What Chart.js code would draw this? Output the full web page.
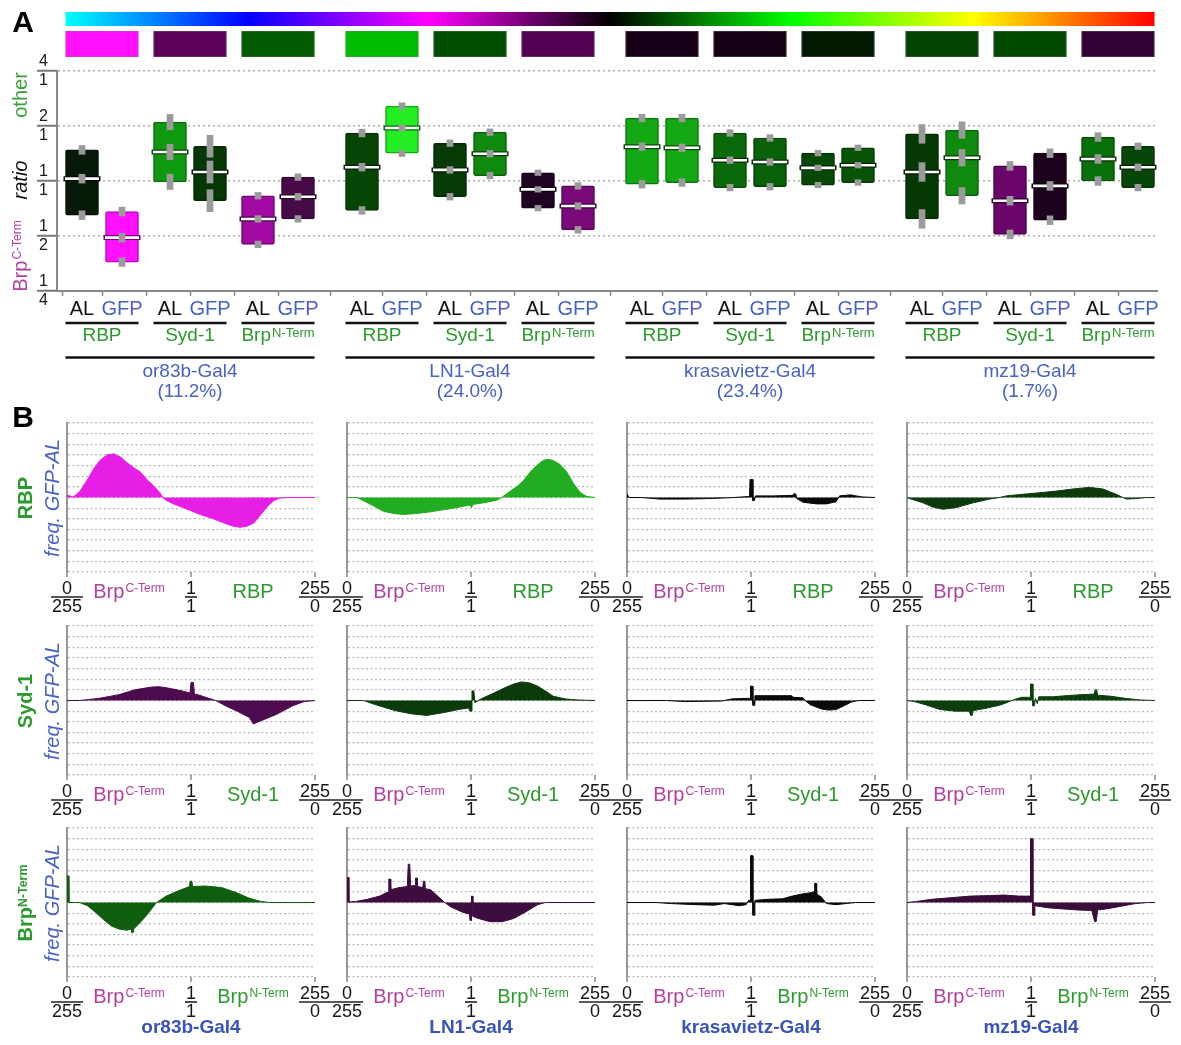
<!DOCTYPE html>
<html>
<head>
<meta charset="utf-8">
<title>AL / GFP ratio distributions</title>
<script src="https://cdn.jsdelivr.net/npm/chart.js@4/dist/chart.umd.min.js"></script>
<style>
  html, body { margin: 0; padding: 0; background: #fff; }
  #fig { position: relative; width: 1181px; height: 1045px; overflow: hidden;
         font-family: "Liberation Sans", Arial, Helvetica, sans-serif; }
  #fig canvas { position: absolute; }
  .lbl { position: absolute; white-space: nowrap; text-align: center; }
  .lbl sup { font-size: 0.62em; vertical-align: 0.42em; line-height: 0; }
</style>
</head>
<body>
<div id="fig">
  <canvas id="ratioChart" width="1181" height="420" style="left:0;top:0"></canvas>
</div>
<script>
// ---------------------------------------------------------------
// Panel A: AL vs GFP intensity ratios (Brp C-Term : other marker)
// order: driver -> marker -> (AL, GFP)
// ---------------------------------------------------------------
const drivers      = ['or83b-Gal4', 'LN1-Gal4', 'krasavietz-Gal4', 'mz19-Gal4'];
const driverShare  = ['(11.2%)', '(24.0%)', '(23.4%)', '(1.7%)'];
const markerNames  = ['RBP', 'Syd-1', 'Brp'];
const markerSups   = ['', '', 'N-Term'];
const sampleNames  = ['AL', 'GFP'];

const ratioHigh   = [1.48, 0.68, 2.10, 1.55, 0.83, 1.05,  1.83, 2.57, 1.61, 1.85, 1.11, 0.94,
                     2.21, 2.21, 1.83, 1.72, 1.42, 1.52,  1.81, 1.90, 1.21, 1.42, 1.74, 1.55];
const ratioMedian = [1.03, 0.49, 1.44, 1.12, 0.62, 0.82,  1.19, 1.95, 1.15, 1.41, 0.90, 0.73,
                     1.54, 1.52, 1.30, 1.27, 1.18, 1.22,  1.12, 1.34, 0.78, 0.94, 1.32, 1.19];
const ratioLow    = [0.65, 0.36, 0.99, 0.78, 0.45, 0.62,  0.69, 1.42, 0.82, 1.07, 0.71, 0.54,
                     0.96, 0.98, 0.92, 0.93, 0.95, 0.98,  0.62, 0.83, 0.51, 0.61, 1.00, 0.92];
// half-length (log2 units) of the grey uncertainty marks
const ratioSpread = [0.08, 0.08, 0.14, 0.20, 0.06, 0.06,  0.07, 0.06, 0.06, 0.06, 0.05, 0.06,
                     0.07, 0.07, 0.06, 0.06, 0.05, 0.05,  0.17, 0.15, 0.08, 0.08, 0.08, 0.06];
const boxFill = ['#071a07', '#ff10ff', '#0f990f', '#053805', '#a30aa3', '#470a47',
                 '#074507', '#22ee22', '#063a06', '#0f8a0f', '#200320', '#7a0a7a',
                 '#14a814', '#14a814', '#0a6a0a', '#086008', '#064806', '#075407',
                 '#063806', '#0f8a0f', '#6a066a', '#1c021c', '#087008', '#064606'];
const pairFill = ['#ff10ff', '#5c005c', '#005a00', '#00bb00', '#004f00', '#520052',
                  '#170017', '#140012', '#011801', '#004400', '#004900', '#330033'];
const ratioTicks    = [0.25, 0.5, 1, 2, 4];
const ratioTickText = [['1', '4'], ['1', '2'], ['1', '1'], ['2', '1'], ['4', '1']];

// ---------------------------------------------------------------
// Panel B: GFP-AL frequency differences, [bin, value]
// bins 0..510 : 0/255 ... 1/1 (bin 255) ... 255/0
// ---------------------------------------------------------------
const hRBP_or83b = [[0,0.2],[6,0.15],[12,0.05],[17,0.2],[27,0.6],[41,1.6],[55,2.7],[68,3.5],[82,4.0],[96,4.1],[110,3.8],[123,3.3],[137,2.8],[151,2.4],[164,1.7],[178,1.1],[192,0.4],[197,0],[205,-0.3],[219,-0.6],[247,-1.1],[274,-1.6],[301,-2.0],[329,-2.5],[342,-2.7],[356,-2.8],[370,-2.7],[384,-2.4],[397,-1.7],[411,-0.9],[425,-0.3],[438,-0.05],[452,0],[510,0]];
const hRBP_LN1   = [[0,0],[21,0],[34,-0.3],[55,-0.8],[75,-1.3],[96,-1.5],[116,-1.6],[144,-1.5],[171,-1.35],[199,-1.15],[226,-0.95],[253,-0.7],[256,-0.95],[259,-0.65],[281,-0.5],[308,-0.25],[318,0],[336,0.6],[349,1.0],[363,1.6],[377,2.4],[390,3.0],[404,3.5],[414,3.6],[425,3.45],[438,3.1],[452,2.4],[466,1.3],[479,0.5],[493,0.1],[510,0]];
const hRBP_kras  = [[0,0.35],[2,0.35],[4,0],[30,0],[67,-0.15],[120,-0.15],[170,-0.1],[220,0],[252,0.1],[253,1.7],[258,1.7],[259,-0.3],[262,-0.3],[264,0.15],[300,0.15],[341,0.2],[343,0.35],[347,0.35],[349,-0.1],[362,-0.45],[390,-0.6],[410,-0.6],[430,-0.4],[437,0.15],[460,0.25],[471,0.15],[485,0.05],[510,0]];
const hRBP_mz19  = [[0,0],[5,-0.1],[33,-0.5],[53,-0.9],[74,-1.1],[101,-0.95],[136,-0.5],[170,-0.15],[190,0],[204,0.15],[238,0.3],[273,0.45],[307,0.6],[341,0.8],[375,0.95],[403,0.8],[430,0.3],[451,-0.15],[471,-0.1],[492,0],[510,0]];

const hSyd_or83b = [[0,0],[26,0],[66,0.2],[107,0.55],[139,1.0],[172,1.25],[188,1.3],[204,1.2],[237,0.9],[253,0.7],[255,1.7],[260,1.7],[262,0.6],[269,0.55],[285,0.3],[306,0],[326,-0.5],[350,-1.0],[375,-1.6],[383,-2.2],[399,-1.9],[431,-1.3],[464,-0.5],[488,-0.1],[510,0]];
const hSyd_LN1   = [[0,0],[34,0],[59,-0.4],[99,-0.95],[132,-1.25],[164,-1.4],[197,-1.15],[229,-0.85],[250,-0.7],[253,-1.0],[256,-1.0],[257,0.9],[261,0.9],[263,-0.2],[270,0],[278,0.2],[302,0.7],[327,1.25],[343,1.55],[359,1.75],[376,1.65],[392,1.35],[408,0.9],[424,0.4],[449,0.15],[473,0.05],[510,0]];
const hSyd_kras  = [[0,0],[81,0],[120,-0.1],[195,-0.05],[215,0.15],[248,0.2],[253,0.2],[254,1.35],[258,1.35],[259,-0.45],[262,-0.45],[263,0.45],[300,0.45],[339,0.45],[341,0.3],[362,0.25],[366,0],[377,-0.4],[400,-0.8],[415,-0.9],[430,-0.85],[446,-0.5],[461,-0.15],[476,0],[510,0]];
const hSyd_mz19  = [[0,0],[15,-0.1],[38,-0.4],[68,-0.85],[99,-1.0],[128,-1.0],[131,-1.4],[134,-1.4],[136,-0.95],[160,-0.75],[190,-0.45],[205,-0.2],[221,0.1],[236,0.3],[253,0.3],[254,1.55],[258,1.55],[259,-0.5],[262,-0.5],[264,0.2],[268,-0.3],[271,0.35],[300,0.35],[327,0.45],[358,0.55],[385,0.6],[387,1.0],[390,1.0],[392,0.5],[419,0.4],[449,0.2],[479,0.05],[510,0]];

const hBrpN_or83b = [[0,2.5],[3,2.5],[4,0],[26,0],[42,-0.3],[58,-0.9],[75,-1.6],[91,-2.2],[107,-2.5],[123,-2.6],[132,-2.5],[133,-2.8],[136,-2.8],[137,-2.5],[148,-2.0],[164,-1.2],[184,0],[204,0.6],[229,1.1],[252,1.5],[253,2.0],[257,2.0],[258,1.5],[285,1.55],[318,1.4],[350,0.9],[375,0.4],[399,0.1],[415,0],[510,0]];
const hBrpN_LN1   = [[0,2.35],[3,2.35],[4,0.05],[18,0.1],[42,0.3],[67,0.6],[85,1.0],[86,2.2],[89,2.2],[90,1.2],[107,1.4],[124,1.5],[126,3.6],[129,3.6],[131,1.55],[140,1.6],[141,2.3],[144,2.3],[145,1.5],[156,1.4],[157,2.0],[160,2.0],[161,1.3],[172,1.2],[189,0.5],[201,0],[213,-0.4],[237,-0.9],[252,-1.1],[253,-1.7],[255,-1.7],[256,0.6],[258,0.6],[259,-1.3],[270,-1.5],[294,-1.8],[319,-1.8],[343,-1.5],[367,-0.9],[392,-0.2],[408,0],[510,0]];
const hBrpN_kras  = [[0,0],[60,0],[90,-0.1],[140,-0.2],[180,-0.25],[200,-0.1],[230,-0.3],[245,-0.2],[250,0.2],[253,0.2],[254,4.4],[258,4.4],[259,-1.2],[262,-1.2],[263,0.2],[290,0.3],[320,0.35],[340,0.6],[360,0.8],[375,0.9],[385,1.0],[386,1.8],[389,1.8],[390,0.8],[400,0.5],[410,-0.1],[430,-0.2],[450,-0.1],[470,0],[510,0]];
const hBrpN_mz19  = [[0,0],[20,0.1],[50,0.3],[90,0.45],[130,0.6],[170,0.65],[200,0.7],[230,0.6],[253,0.6],[254,6.0],[258,6.0],[259,-1.2],[262,-1.2],[263,-0.3],[290,-0.5],[320,-0.6],[350,-0.7],[380,-0.75],[386,-1.8],[389,-1.8],[392,-0.7],[410,-0.6],[440,-0.35],[470,-0.1],[495,0],[510,0]];

const histTickBins = [0, 255, 510];
const histTickText = [['0', '255'], ['1', '1'], ['255', '0']];

// ---------------------------------------------------------------
const FONT = '"Liberation Sans", Arial, Helvetica, sans-serif';
const BLUE = '#4a62c4';
const BLUE_DARK = '#3a53b4';
const GREEN = '#2c9a2c';
const MAGENTA = '#b0409f';
const fig = document.getElementById('fig');

function shade(hex, f) {
  const n = parseInt(hex.slice(1), 16);
  const r = (n >> 16) & 255, g = (n >> 8) & 255, b = n & 255;
  return `rgb(${Math.round(r * f)},${Math.round(g * f)},${Math.round(b * f)})`;
}

// text with an optional superscript, centred on cx, sitting on baseY
function richText(ctx, base, sup, cx, baseY, size, color, o = {}) {
  const weight = o.weight || 'normal', style = o.style || 'normal';
  const supSize = Math.round(size * (o.supRatio || 0.62));
  const f1 = `${style} ${weight} ${size}px ${FONT}`;
  const f2 = `${style} ${weight} ${supSize}px ${FONT}`;
  ctx.save();
  ctx.fillStyle = color;
  ctx.textBaseline = 'alphabetic';
  ctx.textAlign = 'left';
  ctx.font = f1; const w1 = ctx.measureText(base).width;
  ctx.font = f2; const w2 = sup ? ctx.measureText(sup).width + 1 : 0;
  const x0 = cx - (w1 + w2) / 2;
  ctx.font = f1; ctx.fillText(base, x0, baseY);
  if (sup) { ctx.font = f2; ctx.fillText(sup, x0 + w1 + 1, baseY - 0.72 * (size - supSize)); }
  ctx.restore();
}

function rotated(ctx, cx, cy, draw) {
  ctx.save(); ctx.translate(cx, cy); ctx.rotate(-Math.PI / 2); draw(); ctx.restore();
}

function fraction(ctx, cx, barY, num, den, size) {
  ctx.save();
  ctx.font = `${size}px ${FONT}`;
  const w = Math.max(ctx.measureText(num).width, ctx.measureText(den).width) + 2;
  ctx.strokeStyle = '#222'; ctx.lineWidth = 1.6;
  ctx.beginPath(); ctx.moveTo(cx - w / 2, barY); ctx.lineTo(cx + w / 2, barY); ctx.stroke();
  ctx.fillStyle = '#151515'; ctx.textAlign = 'center'; ctx.textBaseline = 'alphabetic';
  ctx.fillText(num, cx, barY - 3.5);
  ctx.fillText(den, cx, barY + 2.5 + size * 0.72);
  ctx.restore();
}

// ---------------------------------------------------------------
// Panel A chart
// ---------------------------------------------------------------
const SLOT = { driver: 35, marker: 11, sample: 5 };        // spacing in slot units
const slotX = ratioMedian.map((_, i) =>
  Math.floor(i / 6) * SLOT.driver + Math.floor((i % 6) / 2) * SLOT.marker + (i % 2) * SLOT.sample);
const BOX_W = 33;

const boxData = slotX.map((x, i) => ({ x, y: [ratioLow[i], ratioHigh[i]] }));
const medData = slotX.map((x, i) => ({ x, y: ratioMedian[i] }));
const markAt = vals => slotX.map((x, i) =>
  ({ x, y: [vals[i] * Math.pow(2, -ratioSpread[i]), vals[i] * Math.pow(2, ratioSpread[i])] }));

const ratioDecor = {
  id: 'ratioDecor',
  afterDraw(chart) {
    const { ctx, scales: { x } } = chart;
    const half = BOX_W / 2;
    const px = i => x.getPixelForValue(slotX[i]);

    // colour scale
    const x0 = px(0) - half, x1 = px(slotX.length - 1) + half;
    const g = ctx.createLinearGradient(x0, 0, x1, 0);
    ['#00ffff', '#0000ff', '#ff00ff', '#000000', '#00ff00', '#ffff00', '#ff0000']
      .forEach((c, k) => g.addColorStop(k / 6, c));
    ctx.save();
    ctx.fillStyle = g;
    ctx.fillRect(x0, 12, x1 - x0, 14);

    // per-pair colour patches, pair rules and marker names
    for (let p = 0; p < pairFill.length; p++) {
      const a = px(2 * p) - half, b = px(2 * p + 1) + half;
      ctx.fillStyle = pairFill[p];
      ctx.fillRect(a, 31, b - a, 26);
      ctx.strokeStyle = 'rgba(120,120,120,0.35)'; ctx.lineWidth = 1;
      ctx.strokeRect(a + 0.5, 31.5, b - a - 1, 25);
      ctx.strokeStyle = '#111'; ctx.lineWidth = 2.5;
      ctx.beginPath(); ctx.moveTo(a, 323); ctx.lineTo(b, 323); ctx.stroke();
      const m = p % 3;
      richText(ctx, markerNames[m], markerSups[m], (a + b) / 2, 341, 19, GREEN, { supRatio: 0.66 });
    }
    // driver rules and names
    for (let d = 0; d < drivers.length; d++) {
      const a = px(6 * d) - half, b = px(6 * d + 5) + half;
      ctx.strokeStyle = '#111'; ctx.lineWidth = 2.5;
      ctx.beginPath(); ctx.moveTo(a, 357.5); ctx.lineTo(b, 357.5); ctx.stroke();
      richText(ctx, drivers[d], '', (a + b) / 2, 377, 19, BLUE);
      richText(ctx, driverShare[d], '', (a + b) / 2, 397, 19, BLUE);
    }
    // axis titles
    rotated(ctx, 20, 95, () => richText(ctx, 'other', '', 0, 7, 20, '#3aa03a'));
    rotated(ctx, 20, 180, () => richText(ctx, 'ratio', '', 0, 7, 20, '#111', { style: 'italic' }));
    rotated(ctx, 20, 256, () => richText(ctx, 'Brp', 'C-Term', 0, 7, 20, MAGENTA));
    ctx.restore();
  }
};

new Chart(document.getElementById('ratioChart'), {
  type: 'bar',
  data: {
    datasets: [
      { type: 'bar', data: boxData, backgroundColor: boxFill,
        borderColor: boxFill.map(c => shade(c, 0.7)), borderWidth: 1.5, borderSkipped: false,
        borderRadius: 2, barThickness: BOX_W, grouped: false, order: 5 },
      { type: 'line', data: medData, showLine: false, pointStyle: 'line', pointRadius: 18.5,
        pointBorderWidth: 5, pointBorderColor: boxFill.map(c => shade(c, 0.45)), order: 4 },
      { type: 'line', data: medData, showLine: false, pointStyle: 'line', pointRadius: 17,
        pointBorderWidth: 2.6, pointBorderColor: '#ffffff', order: 3 },
      { type: 'bar', data: markAt(ratioHigh), backgroundColor: '#9a9a9a', borderWidth: 0,
        barThickness: 6, grouped: false, order: 2 },
      { type: 'bar', data: markAt(ratioMedian), backgroundColor: '#9a9a9a', borderWidth: 0,
        barThickness: 6, grouped: false, order: 2 },
      { type: 'bar', data: markAt(ratioLow), backgroundColor: '#9a9a9a', borderWidth: 0,
        barThickness: 6, grouped: false, order: 2 }
    ]
  },
  options: {
    responsive: false, animation: false, events: [], devicePixelRatio: 1,
    layout: { padding: { left: 0, right: 24, top: 71, bottom: 0 } },
    plugins: { legend: { display: false }, tooltip: { enabled: false } },
    scales: {
      x: {
        type: 'linear', min: -3.125, max: 134.375, offset: false,
        afterBuildTicks(s) { s.ticks = slotX.map(v => ({ value: v })); },
        afterFit(s) { s.height = 129; },
        ticks: {
          autoSkip: false, maxRotation: 0, padding: 1,
          font: { family: FONT, size: 20 },
          color: c => (c.index % 2 ? BLUE : '#111'),
          callback: (v, i) => sampleNames[i % 2]
        },
        grid: { drawOnChartArea: false, tickLength: 5, color: '#888', tickWidth: 1.5 },
        border: { color: '#888', width: 2 }
      },
      y: {
        type: 'logarithmic', min: 0.25, max: 4,
        afterBuildTicks(s) { s.ticks = ratioTicks.map(v => ({ value: v })); },
        afterFit(s) { s.width = 57; },
        ticks: {
          autoSkip: false, crossAlign: 'center', padding: -11,
          font: { family: FONT, size: 16, lineHeight: 1.15 }, color: '#1a1a1a',
          callback: (v, i) => ratioTickText[i]
        },
        grid: { color: '#ababab', lineWidth: 1.5, tickLength: 20, tickColor: '#777',
                tickWidth: 2, tickBorderDash: [], borderDash: [2, 3] },
        border: { color: '#888', width: 2, dash: [2, 3] }
      }
    }
  },
  plugins: [ratioDecor]
});

// ---------------------------------------------------------------
// Panel B: twelve frequency-difference histograms
// ---------------------------------------------------------------
const rowMarker = [{ t: 'RBP', s: '' }, { t: 'Syd-1', s: '' }, { t: 'Brp', s: 'N-Term' }];
const histPanels = [
  { row: 0, col: 0, data: hRBP_or83b,  color: '#e61ee6' },
  { row: 0, col: 1, data: hRBP_LN1,    color: '#22ac22' },
  { row: 0, col: 2, data: hRBP_kras,   color: '#0a0a0a' },
  { row: 0, col: 3, data: hRBP_mz19,   color: '#0d3a0d' },
  { row: 1, col: 0, data: hSyd_or83b,  color: '#4d0a4d' },
  { row: 1, col: 1, data: hSyd_LN1,    color: '#0b3b0b' },
  { row: 1, col: 2, data: hSyd_kras,   color: '#0a0a0a' },
  { row: 1, col: 3, data: hSyd_mz19,   color: '#0e3e0e' },
  { row: 2, col: 0, data: hBrpN_or83b, color: '#0f5e0f' },
  { row: 2, col: 1, data: hBrpN_LN1,   color: '#3e0c3e' },
  { row: 2, col: 2, data: hBrpN_kras,  color: '#0a0a0a' },
  { row: 2, col: 3, data: hBrpN_mz19,  color: '#3a0c3a' }
];
const GRID_B = { axisX: [67, 347, 627, 907], top: [423, 626, 828], w: 248, h: 149,
                 padL: 22, padR: 22, padT: 8, padB: 48 };

const histDecor = {
  id: 'histDecor',
  afterDraw(chart, args, opts) {
    const { ctx, chartArea: a, scales: { x } } = chart;
    ctx.save();
    ctx.strokeStyle = '#888'; ctx.lineWidth = 1.5;
    histTickBins.forEach(v => {
      const p = x.getPixelForValue(v);
      ctx.beginPath(); ctx.moveTo(p, a.bottom); ctx.lineTo(p, a.bottom + 5); ctx.stroke();
    });
    histTickBins.forEach((v, k) =>
      fraction(ctx, x.getPixelForValue(v), a.bottom + 25, histTickText[k][0], histTickText[k][1], 18));
    richText(ctx, 'Brp', 'C-Term', x.getPixelForValue(127.5), a.bottom + 26, 20, MAGENTA, { supRatio: 0.6 });
    richText(ctx, opts.marker.t, opts.marker.s, x.getPixelForValue(382.5), a.bottom + 26, 20, GREEN, { supRatio: 0.6 });
    ctx.restore();
  }
};

histPanels.forEach(p => {
  const cv = document.createElement('canvas');
  const W = GRID_B.w + GRID_B.padL + GRID_B.padR, H = GRID_B.h + GRID_B.padT + GRID_B.padB;
  cv.width = W; cv.height = H;
  cv.style.left = (GRID_B.axisX[p.col] - GRID_B.padL) + 'px';
  cv.style.top = (GRID_B.top[p.row] - GRID_B.padT) + 'px';
  fig.appendChild(cv);
  new Chart(cv, {
    type: 'line',
    data: { datasets: [{ data: p.data, borderColor: p.color, backgroundColor: p.color,
                         fill: 'origin', borderWidth: 1, pointRadius: 0, tension: 0 }] },
    options: {
      responsive: false, animation: false, events: [], devicePixelRatio: 1,
      layout: { padding: { left: GRID_B.padL, right: GRID_B.padR, top: GRID_B.padT, bottom: GRID_B.padB } },
      plugins: { legend: { display: false }, tooltip: { enabled: false },
                 histDecor: { marker: rowMarker[p.row] } },
      scales: {
        x: { type: 'linear', min: 0, max: 510, display: false },
        y: { min: -7, max: 7,
             afterFit(s) { s.width = 0; },
             ticks: { display: false, stepSize: 1 },
             grid: { color: '#b8b8b8', lineWidth: 1.2, drawTicks: false, borderDash: [2, 2.5] },
             border: { color: '#999', width: 2, dash: [2, 2.5] } }
      }
    },
    plugins: [histDecor]
  });
});

// ---------------------------------------------------------------
// Figure lettering and panel-B row / column titles
// ---------------------------------------------------------------
function addText(html, cx, cy, css, rotate) {
  const d = document.createElement('div');
  d.className = 'lbl';
  d.innerHTML = html;
  const W = 240, H = 30;
  Object.assign(d.style, css, {
    width: W + 'px', height: H + 'px', lineHeight: H + 'px',
    left: (cx - W / 2) + 'px', top: (cy - H / 2) + 'px'
  });
  if (rotate) d.style.transform = 'rotate(-90deg)';
  fig.appendChild(d);
}
addText('A', 23, 22, { fontWeight: 'bold', fontSize: '30px', color: '#000' });
addText('B', 23, 417, { fontWeight: 'bold', fontSize: '30px', color: '#000' });

const rowTitles = ['RBP', 'Syd-1', 'Brp<sup>N-Term</sup>'];
rowTitles.forEach((t, r) => {
  const cy = GRID_B.top[r] + GRID_B.h / 2;
  addText(t, 25, cy, { fontWeight: 'bold', fontSize: '20px', color: GREEN }, true);
  addText('freq. GFP-AL', 52, cy, { fontStyle: 'italic', fontSize: '20px', color: BLUE }, true);
});
drivers.forEach((d, c) => {
  addText(d, GRID_B.axisX[c] + GRID_B.w / 2, 1027, { fontWeight: 'bold', fontSize: '19px', color: BLUE_DARK });
});
</script>
</body>
</html>
